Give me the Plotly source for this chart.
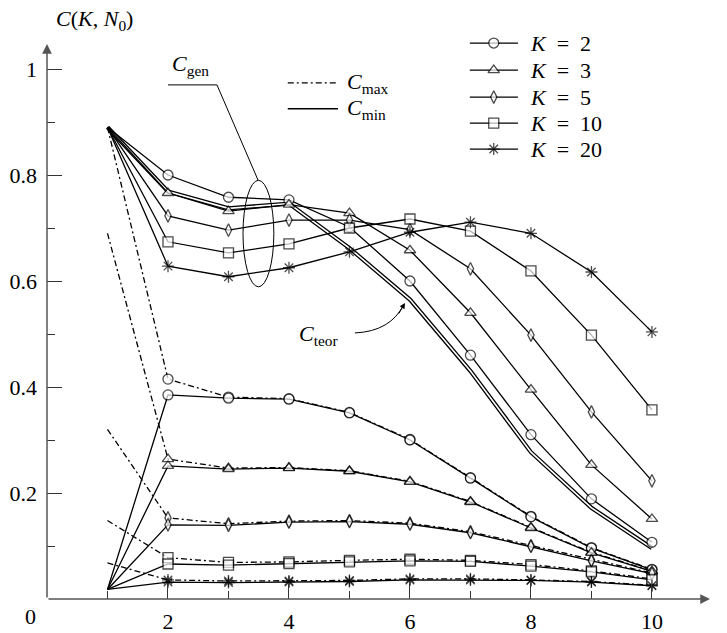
import plotly.graph_objects as go

# ---------------- data ----------------
N0 = [1, 2, 3, 4, 5, 6, 7, 8, 9, 10]
K_names = ["2", "3", "5", "10", "20"]

# C_gen (upper family)
gen_K2 = [0.89, 0.800, 0.758, 0.753, 0.702, 0.600, 0.460, 0.310, 0.189, 0.107]
gen_K3 = [0.89, 0.766, 0.732, 0.744, 0.728, 0.658, 0.540, 0.395, 0.253, 0.151]
gen_K5 = [0.89, 0.723, 0.696, 0.715, 0.715, 0.697, 0.623, 0.498, 0.353, 0.223]
gen_K10 = [0.89, 0.674, 0.653, 0.670, 0.700, 0.717, 0.694, 0.619, 0.498, 0.357]
gen_K20 = [0.89, 0.628, 0.608, 0.625, 0.655, 0.692, 0.711, 0.690, 0.617, 0.504]

# C_teor (double line)
teor = [0.89, 0.769, 0.737, 0.746, 0.662, 0.565, 0.430, 0.277, 0.172, 0.096]

# C_min (solid, lower family)
min_K2 = [0.018, 0.385, 0.379, 0.377, 0.351, 0.300, 0.228, 0.155, 0.096, 0.055]
min_K3 = [0.018, 0.251, 0.245, 0.247, 0.241, 0.221, 0.183, 0.134, 0.087, 0.052]
min_K5 = [0.018, 0.140, 0.139, 0.145, 0.146, 0.141, 0.125, 0.099, 0.072, 0.048]
min_K10 = [0.018, 0.066, 0.064, 0.067, 0.070, 0.072, 0.071, 0.062, 0.051, 0.036]
min_K20 = [0.018, 0.032, 0.031, 0.032, 0.033, 0.036, 0.036, 0.035, 0.032, 0.025]

# C_max (dash-dot, lower family)
max_K2 = [0.890, 0.415, 0.381, 0.378, 0.352, 0.301, 0.229, 0.156, 0.097, 0.056]
max_K3 = [0.690, 0.264, 0.247, 0.248, 0.242, 0.222, 0.184, 0.135, 0.088, 0.053]
max_K5 = [0.320, 0.153, 0.142, 0.147, 0.148, 0.143, 0.127, 0.101, 0.074, 0.049]
max_K10 = [0.148, 0.078, 0.069, 0.070, 0.073, 0.075, 0.073, 0.065, 0.053, 0.038]
max_K20 = [0.068, 0.036, 0.034, 0.034, 0.035, 0.038, 0.038, 0.036, 0.033, 0.026]

x_major = [2, 4, 6, 8, 10]
x_minor = [1, 3, 5, 7, 9]
y_major = [0.2, 0.4, 0.6, 0.8, 1.0]
y_major_text = ["0.2", "0.4", "0.6", "0.8", "1"]
y_minor = [0.1, 0.3, 0.5, 0.7, 0.9]

# ---------------- style ----------------
FONT = "Liberation Serif, DejaVu Serif, serif"
FS = 22
LW = 1.3
symbols = ["circle", "triangle-up", "diamond-tall", "square", "asterisk-open"]
msizes = [10, 10, 9, 10, 10]
DASHDOT = "6px,3px,2px,3px"

gen_all = [gen_K2, gen_K3, gen_K5, gen_K10, gen_K20]
min_all = [min_K2, min_K3, min_K5, min_K10, min_K20]
max_all = [max_K2, max_K3, max_K5, max_K10, max_K20]


def marker(i, sizes):
    sym = symbols[i]
    fill = "black" if sym.startswith("asterisk") else "white"
    return dict(symbol=sym, size=sizes, color=fill,
                line=dict(color="black", width=LW))


def tfont(size=FS):
    return dict(family=FONT, size=size, color="black")


fig = go.Figure()

# C_teor as a double line
fig.add_trace(go.Scatter(x=N0, y=teor, mode="lines",
                         line=dict(color="black", width=4.2), hoverinfo="skip"))
fig.add_trace(go.Scatter(x=N0, y=teor, mode="lines",
                         line=dict(color="white", width=1.6), hoverinfo="skip"))


def pts_sizes(i):
    return [0] + [msizes[i]] * (len(N0) - 1)


for i in range(5):
    fig.add_trace(go.Scatter(x=N0, y=max_all[i], mode="lines+markers",
                             line=dict(color="black", width=LW, dash=DASHDOT),
                             marker=marker(i, pts_sizes(i))))
for i in range(5):
    fig.add_trace(go.Scatter(x=N0, y=min_all[i], mode="lines+markers",
                             line=dict(color="black", width=LW),
                             marker=marker(i, pts_sizes(i))))
for i in range(5):
    fig.add_trace(go.Scatter(x=N0, y=gen_all[i], mode="lines+markers",
                             line=dict(color="black", width=LW),
                             marker=marker(i, pts_sizes(i))))

# ---------------- K legend (drawn in data space) ----------------
leg_x = [6.99, 7.385, 7.785]
leg_y = [1.049, 0.998, 0.947, 0.898, 0.849]
for i in range(5):
    fig.add_trace(go.Scatter(x=leg_x, y=[leg_y[i]] * 3, mode="lines+markers",
                             line=dict(color="black", width=LW),
                             marker=marker(i, [0, msizes[i], 0]),
                             cliponaxis=False))
    fig.add_annotation(x=7.95, y=leg_y[i], xref="x", yref="y",
                       text="<i>K</i>\u2002=\u2002" + K_names[i], showarrow=False,
                       xanchor="left", yanchor="middle", font=tfont())

# C_max / C_min legend
fig.add_trace(go.Scatter(x=[3.98, 4.81], y=[0.974, 0.974], mode="lines",
                         line=dict(color="black", width=LW, dash=DASHDOT)))
fig.add_trace(go.Scatter(x=[3.98, 4.81], y=[0.925, 0.925], mode="lines",
                         line=dict(color="black", width=LW)))
fig.add_annotation(x=4.93, y=0.974, text="<i>C</i><sub>max</sub>", showarrow=False,
                   xanchor="left", yanchor="middle", font=tfont())
fig.add_annotation(x=4.93, y=0.925, text="<i>C</i><sub>min</sub>", showarrow=False,
                   xanchor="left", yanchor="middle", font=tfont())

# ---------------- C_gen annotation ----------------
fig.add_shape(type="circle", xref="x", yref="y", x0=3.24, x1=3.75, y0=0.589, y1=0.79,
              line=dict(color="black", width=1))
fig.add_shape(type="path", xref="x", yref="y",
              path="M 2.0,0.97 L 2.81,0.97 L 3.49,0.79",
              line=dict(color="black", width=1))
fig.add_annotation(x=2.38, y=1.008, text="<i>C</i><sub>gen</sub>", showarrow=False,
                   xanchor="center", yanchor="middle", font=tfont())

# ---------------- C_teor annotation ----------------
fig.add_shape(type="path", xref="x", yref="y",
              path="M 5.09,0.502 Q 5.68,0.505 5.90,0.556",
              line=dict(color="black", width=1))
fig.add_annotation(x=5.917, y=0.5585, ax=-7, ay=12, xref="x", yref="y",
                   text="", showarrow=True, arrowhead=2, arrowsize=1.1,
                   arrowwidth=1, arrowcolor="black")
fig.add_annotation(x=4.48, y=0.498, text="<i>C</i><sub>teor</sub>", showarrow=False,
                   xanchor="center", yanchor="middle", font=tfont())

# ---------------- axes with arrows ----------------
fig.add_annotation(x=10.96, y=0, ax=0, ay=0, xref="x", yref="y", axref="x", ayref="y",
                   text="", showarrow=True, arrowhead=2, arrowsize=1.3,
                   arrowwidth=1.5, arrowcolor="#555")
fig.add_annotation(x=0, y=1.047, ax=0, ay=0, xref="x", yref="y", axref="x", ayref="y",
                   text="", showarrow=True, arrowhead=2, arrowsize=1.3,
                   arrowwidth=1.5, arrowcolor="#555")
fig.add_annotation(x=0, y=0, text="0", showarrow=False, xshift=-17, yshift=-17,
                   font=tfont())
fig.add_annotation(x=11.02, y=0, text="<i>N</i><sub>0</sub>", showarrow=False,
                   yshift=-18, xanchor="center", font=tfont())
fig.add_annotation(x=0, y=1.092, text="<i>C</i>(<i>K</i>, <i>N</i><sub>0</sub>)",
                   showarrow=False, xanchor="left", yanchor="middle", xshift=7,
                   font=tfont())

fig.update_xaxes(range=[0, 10.96], showgrid=False, zeroline=False, showline=False,
                 automargin=False,
                 tickmode="array", tickvals=x_major, ticktext=[str(v) for v in x_major],
                 ticks="inside", ticklen=15, tickwidth=1, tickcolor="#333",
                 ticklabelstandoff=7,
                 minor=dict(tickmode="array", tickvals=x_minor, ticks="inside",
                            ticklen=8, tickwidth=1, tickcolor="#333"),
                 tickfont=tfont())
fig.update_yaxes(range=[0, 1.1], showgrid=False, zeroline=False, showline=False,
                 automargin=False,
                 tickmode="array", tickvals=y_major, ticktext=y_major_text,
                 ticks="inside", ticklen=15, tickwidth=1, tickcolor="#333",
                 ticklabelstandoff=9,
                 minor=dict(tickmode="array", tickvals=y_minor, ticks="inside",
                            ticklen=8, tickwidth=1, tickcolor="#333"),
                 tickfont=tfont())

fig.update_layout(width=727, height=633, showlegend=False,
                  margin=dict(l=47, r=17, t=16, b=34, pad=0, autoexpand=False),
                  plot_bgcolor="white", paper_bgcolor="white",
                  font=tfont())

fig.write_html("out.html")
